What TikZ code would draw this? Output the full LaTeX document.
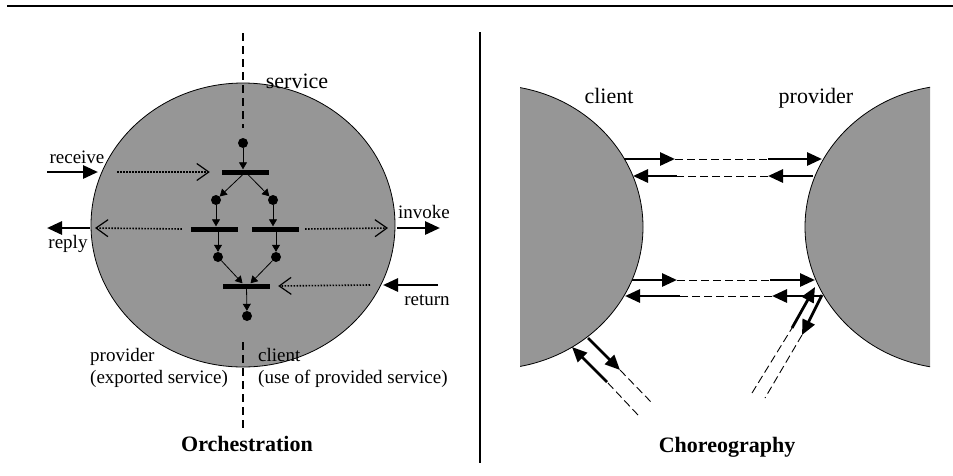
\documentclass[tikz,border=0pt]{standalone}
\usepackage{fontspec}
\setmainfont{Liberation Serif}
\usetikzlibrary{arrows.meta}
\definecolor{shade}{RGB}{150,150,150}
\begin{document}
\begin{tikzpicture}[x=1pt,y=-1pt,line join=round,
  place/.style={circle,fill,inner sep=0pt,minimum size=10pt},
  trans/.style={fill,inner sep=0pt,minimum width=47pt,minimum height=5pt},
  flow/.style={-{Triangle[length=7pt,width=8pt]},line width=0.8pt},
  msg/.style={-{Triangle[length=15pt,width=13pt]},line width=2.8pt},
  link/.style={dash pattern=on 1.5pt off 1.5pt,line width=1.6pt,-{Straight Barb[length=12pt,width=17pt,line width=1.2pt]}},
  wire/.style={dash pattern=on 8pt off 4pt,line width=0.9pt},
  lbl/.style={font=\fontsize{19}{22}\selectfont,inner sep=0pt},
  big/.style={font=\fontsize{22}{26}\selectfont,inner sep=0pt},
  title/.style={font=\fontsize{22}{26}\selectfont\bfseries,inner sep=0pt}]
\useasboundingbox (0,0) rectangle (953,475);
\draw[line width=1.5pt] (7,6)--(953,6);
\draw[line width=1.5pt] (480,32)--(480,463);
% orchestration
\draw[fill=shade,line width=0.8pt] (243,225) ellipse [x radius=152pt,y radius=142pt];
\draw[line width=2.5pt,dash pattern=on 8pt off 5pt] (243,33)--(243,128) (243,342)--(243,428);
\node[place] (s0) at (243,143) {};
\node[trans] (t1) at (245.5,172) {};
\node[place] (s1) at (216,200) {};
\node[place] (s2) at (273,200) {};
\node[trans] (t2) at (214.5,229) {};
\node[trans] (t3) at (275.5,229) {};
\node[place] (s3) at (218,257) {};
\node[place] (s4) at (276,257) {};
\node[trans] (t4) at (246.5,286) {};
\node[place] (s5) at (247,316) {};
\draw[flow] (s0)--(s0 |- t1.north);
\draw[flow] (t1.center)--(s1);
\draw[flow] (t1.center)--(s2);
\draw[flow] (s1)--(s1 |- t2.north);
\draw[flow] (s2)--(s2 |- t3.north);
\draw[flow] (s3 |- t2.center)--(s3);
\draw[flow] (s4 |- t3.center)--(s4);
\draw[flow] (s3)--([xshift=-4pt]t4.north);
\draw[flow] (s4)--([xshift=4pt]t4.north);
\draw[flow] (t4.center)--(s5);
% messages in and out
\coordinate (rcv0) at (47,172); \coordinate (rcv1) at (98,172); \coordinate (rcv2) at (117,172);
\coordinate (rpl0) at (90,228); \coordinate (rpl1) at (47,228); \coordinate (rpl2) at (95,228);
\coordinate (inv0) at (397,228); \coordinate (inv1) at (440,228); \coordinate (inv2) at (388,228);
\coordinate (ret0) at (438,285); \coordinate (ret1) at (383,285); \coordinate (ret2) at (370,285);
\draw[msg] (rcv0)--(rcv1); \draw[link] (rcv2)--([xshift=-12pt]t1.west);
\draw[msg] (rpl0)--(rpl1); \draw[link] ([xshift=-9pt]t2.west)--(rpl2);
\draw[msg] (inv0)--(inv1); \draw[link] ([xshift=6pt]t3.east)--(inv2);
\draw[msg] (ret0)--(ret1); \draw[link] (ret2)--([xshift=8pt]t4.east);
\node[big,anchor=base] (svc) at (297,88) {service};
\node[lbl,anchor=base] (lrcv) at (77,163) {receive};
\node[lbl,anchor=base] (lrpl) at (68,248) {reply};
\node[lbl,anchor=base] (linv) at (424,218) {invoke};
\node[lbl,anchor=base] (lret) at (427,305) {return};
\node[lbl,anchor=base west,align=left] (prov) at (90,383) {provider\\(exported service)};
\node[lbl,anchor=base west,align=left] (clnt) at (258,383) {client\\(use of provided service)};
\node[title,anchor=base] (orch) at (247,451) {Orchestration};
% choreography
\begin{scope}
\clip (520,0) rectangle (930,475);
\draw[fill=shade,line width=0.8pt] (491,227) ellipse [x radius=152pt,y radius=142pt];
\draw[fill=shade,line width=0.8pt] (957,227) ellipse [x radius=152pt,y radius=142pt];
\end{scope}
\node[big,anchor=base] (cl) at (609,103) {client};
\node[big,anchor=base] (pr) at (816,103) {provider};
\foreach \i/\y/\xa/\xb/\xc/\xd in {1/159/624/675/768/822,2/176/813/768/677/633,3/280/632/677/770/815,4/296/822/772/680/625}{
  \coordinate (a\i) at (\xa,\y); \coordinate (b\i) at (\xb,\y);
  \coordinate (c\i) at (\xc,\y); \coordinate (d\i) at (\xd,\y);
  \draw[msg] (a\i)--(b\i); \draw[wire] (b\i)--(c\i); \draw[msg] (c\i)--(d\i);
}
\coordinate (a5) at (588,338); \coordinate (b5) at (620,370); \coordinate (c5) at (652,403);
\draw[msg] (a5)--(b5); \draw[wire] (b5)--(c5);
\coordinate (a6) at (638,415); \coordinate (b6) at (607,382); \coordinate (c6) at (572,347);
\draw[wire] (a6)--(b6); \draw[msg] (b6)--(c6);
\coordinate (a7) at (752,393); \coordinate (b7) at (792,328); \coordinate (c7) at (815,287);
\draw[wire] (a7)--(b7); \draw[msg] (b7)--(c7);
\coordinate (a8) at (822,295); \coordinate (b8) at (802,335); \coordinate (c8) at (765,398);
\draw[msg] (a8)--(b8); \draw[wire] (b8)--(c8);
\node[title,anchor=base] (chor) at (727,452) {Choreography};
\end{tikzpicture}
\end{document}
